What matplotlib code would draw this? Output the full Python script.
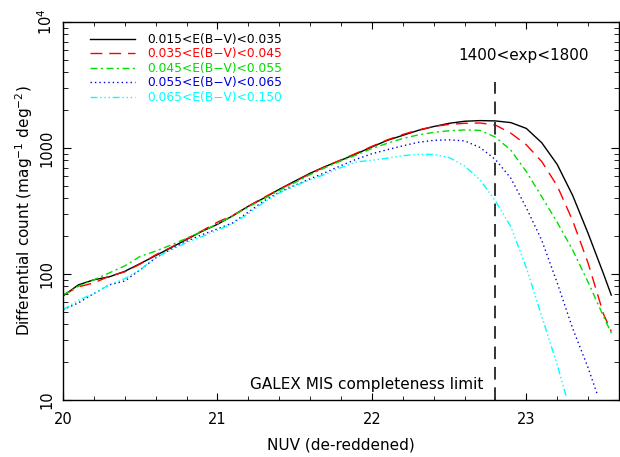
import numpy as np
import matplotlib
matplotlib.use('Agg')
import matplotlib.pyplot as plt
from matplotlib.ticker import LogLocator, FixedLocator, MultipleLocator, NullFormatter


# NUV bins (de-reddened)
nuv = [20.0, 20.1, 20.2, 20.3, 20.4, 20.5, 20.6, 20.7, 20.8, 20.9,
       21.0, 21.1, 21.2, 21.3, 21.4, 21.5, 21.6, 21.7, 21.8, 21.9,
       22.0, 22.1, 22.2, 22.3, 22.4, 22.5, 22.6, 22.7, 22.8, 22.9,
       23.0, 23.1, 23.2, 23.3, 23.4, 23.5, 23.55]

ebv1 = [67, 82, 90, 95, 105, 121, 140, 162, 188, 218,
        248, 290, 345, 400, 470, 545, 630, 715, 800, 900,
        1020, 1150, 1260, 1380, 1480, 1570, 1630, 1650, 1640, 1590,
        1430, 1100, 740, 420, 210, 100, 68]
ebv2 = [68, 79, 85, 96, 104, 120, 142, 163, 190, 220,
        258, 292, 345, 405, 470, 540, 625, 715, 805, 910,
        1030, 1160, 1280, 1390, 1480, 1540, 1570, 1580, 1520, 1310,
        1060, 780, 500, 265, 122, 48, 35]
ebv3 = [68, 80, 90, 102, 116, 138, 152, 170, 192, 218,
        250, 290, 340, 395, 460, 530, 615, 700, 790, 880,
        990, 1090, 1190, 1270, 1330, 1370, 1390, 1380, 1220, 960,
        650, 410, 257, 155, 86, 46, 34]

nuv4 = [20.0, 20.1, 20.2, 20.3, 20.4, 20.5, 20.6, 20.7, 20.8, 20.9,
        21.0, 21.1, 21.2, 21.3, 21.4, 21.5, 21.6, 21.7, 21.8, 21.9,
        22.0, 22.1, 22.2, 22.3, 22.4, 22.5, 22.6, 22.7, 22.8, 22.9,
        23.0, 23.1, 23.2, 23.3, 23.4, 23.46]
ebv4 = [52, 59, 70, 82, 88, 108, 134, 158, 182, 205,
        228, 255, 310, 380, 445, 505, 570, 640, 725, 815,
        900, 970, 1040, 1110, 1150, 1160, 1140, 1010, 810, 575,
        335, 185, 85, 37, 18, 11]

nuv5 = [20.0, 20.1, 20.2, 20.3, 20.4, 20.5, 20.6, 20.7, 20.8, 20.9,
        21.0, 21.1, 21.2, 21.3, 21.4, 21.5, 21.6, 21.7, 21.8, 21.9,
        22.0, 22.1, 22.2, 22.3, 22.4, 22.5, 22.6, 22.7, 22.8, 22.9,
        23.0, 23.1, 23.2, 23.26]
ebv5 = [52, 62, 70, 82, 92, 108, 135, 155, 178, 198,
        222, 252, 300, 370, 440, 500, 560, 620, 700, 775,
        800, 830, 870, 890, 890, 840, 720, 560, 380, 237,
        112, 46, 19, 10.5]

labels = ['0.015<E(B\u2212V)<0.035', '0.035<E(B\u2212V)<0.045',
          '0.045<E(B\u2212V)<0.055', '0.055<E(B\u2212V)<0.065',
          '0.065<E(B\u2212V)<0.150']
colors = ['black', 'red', '#00dd00', '#0000dd', 'cyan']
styles = ['-', (0, (8.5, 5)), (0, (5, 2.5, 1.5, 2.5)), (0, (1, 2.2)),
          (0, (5, 2, 1, 2, 1, 2, 1, 2))]

xs = [nuv, nuv, nuv, nuv4, nuv5]
ys = [ebv1, ebv2, ebv3, ebv4, ebv5]

limit = 22.8

plt.rcParams['font.family'] = 'DejaVu Sans'
fig = plt.figure(figsize=(6.2, 4.57), dpi=100)
ax = fig.add_axes([63/620, 1-400/457, 556/620, 378/457])

for x, y, c, ls, lab in zip(xs, ys, colors, styles, labels):
    ax.plot(x, y, color=c, ls=ls, lw=1.0, label=lab)

# completeness limit, starts below the exposure label
ax.axvline(limit, ymin=0, ymax=0.84, color='#333333', lw=1.4, ls=(0, (6.5, 4)))

ax.set_yscale('log')
ax.set_xlim(20, 23.6)
ax.set_ylim(10, 1e4)

ax.xaxis.set_major_locator(FixedLocator([20, 21, 22, 23]))
ax.xaxis.set_minor_locator(MultipleLocator(0.2))
ax.yaxis.set_major_locator(FixedLocator([10, 100, 1000, 1e4]))
ax.yaxis.set_minor_locator(LogLocator(base=10, subs=np.arange(2, 10)))
ax.yaxis.set_minor_formatter(NullFormatter())
ax.set_yticklabels(['10', '100', '1000', '10$^4$'], rotation=90, va='center')

ax.tick_params(which='both', direction='in', top=True, right=True, labelsize=10.5)
ax.tick_params(axis='x', which='major', length=5, pad=9)
ax.tick_params(axis='x', which='minor', length=3)
ax.tick_params(axis='y', which='major', length=6, pad=6)
ax.tick_params(axis='y', which='minor', length=3.5)
for s in ax.spines.values():
    s.set_linewidth(1.0)

ax.set_xlabel('NUV (de-reddened)', fontsize=11, labelpad=7)
ax.set_ylabel('Differential count (mag$^{-1}$ deg$^{-2}$)', fontsize=11, labelpad=1)

ax.text(22.557, 5470, '1400<exp<1800', fontsize=11, ha='left', va='center')
ax.text(22.72, 11.5, 'GALEX MIS completeness limit', fontsize=11, ha='right', va='bottom')

leg = ax.legend(loc='upper left', bbox_to_anchor=(90/620, 1-33/457),
                bbox_transform=fig.transFigure, frameon=False,
                fontsize=8.8, handlelength=3.7, handletextpad=1.0,
                labelspacing=0.12, borderpad=0, borderaxespad=0,
                labelcolor='linecolor')

fig.savefig('out.png', dpi=100)
